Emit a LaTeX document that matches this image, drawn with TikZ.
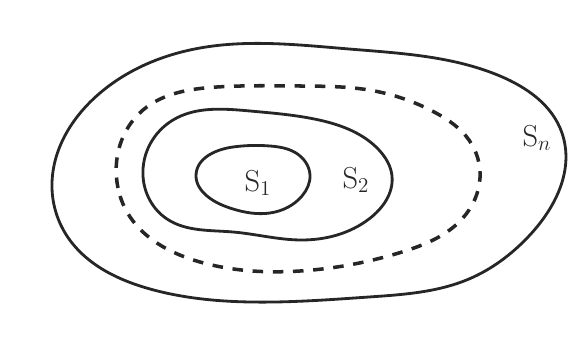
\documentclass[tikz,border=0pt]{standalone}
\usepackage{tikz}
\usetikzlibrary{positioning, hobby}

\begin{document}
\begin{tikzpicture}[x=0.02cm, y=0.02cm, use Hobby shortcut,
  region/.style={draw=black!85, line width=1.6pt, closed hobby},
  regiondashed/.style={region, line width=2pt, dash pattern=on 6pt off 5.5pt},
  lbl/.style={font=\fontsize{17}{19}\selectfont, text=black!85, inner sep=0pt}]
  \useasboundingbox (0,0) rectangle (569,338);
  % outer region S_n
  \draw[region] plot coordinates {(52,150) (100,245) (200,290) (349,289) (500,262)
    (562,205) (529,102) (469,59) (369,41) (250,36) (150,49) (67,102)};
  % dashed region
  \draw[regiondashed] plot coordinates {(118,150) (143,228) (217,251) (300,252) (369,248)
    (436,225) (469,198) (480,160) (462,119) (402,86) (300,67) (200,76) (127,126)};
  % S_2
  \draw[region] plot coordinates {(143,162) (173,218) (250,227) (319,218) (379,188)
    (392,162) (369,119) (300,98) (233,106) (167,119)};
  % S_1
  \draw[region] plot coordinates {(196,162) (233,191) (270,192) (296,185) (310,163)
    (302,142) (270,125) (233,129) (207,142)};
  % labels
  \node[lbl] (s1) at (258,155) {$\mathrm{S}_1$};
  \node[lbl] (s2) at (356,158) {$\mathrm{S}_2$};
  \node[lbl] (sn) at (537,200) {$\mathrm{S}_n$};
\end{tikzpicture}
\end{document}
